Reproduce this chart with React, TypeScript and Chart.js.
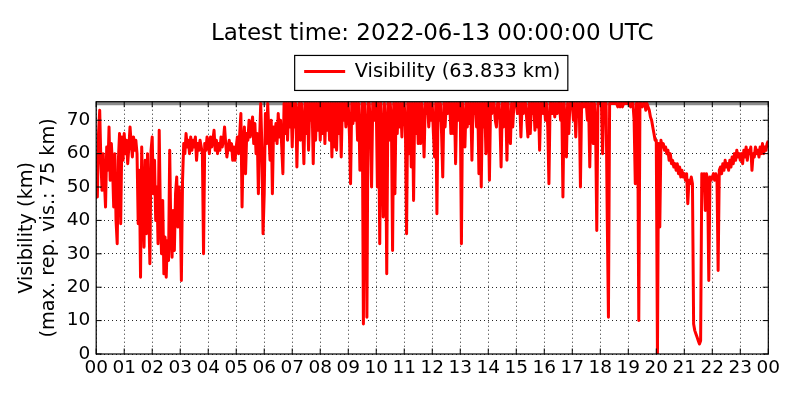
import React, { useEffect, useRef } from 'react';
import { Chart, registerables } from 'chart.js';

Chart.register(...registerables);

const titleText = 'Latest time: 2022-06-13 00:00:00 UTC';
const hourLabels = [
  '00', '01', '02', '03', '04', '05', '06', '07', '08', '09', '10', '11',
  '12', '13', '14', '15', '16', '17', '18', '19', '20', '21', '22', '23', '00',
];
const yTitle = ['Visibility (km)', '(max. rep. vis.: 75 km)'];
const maxReportedVisibility = 75;
const latestVisibility = 63.833;
const stepMinutes = 2.5;

// visibility (km) every 2.5 minutes, one row per hour
const visibility = [
  /* 00 */ 60, 47, 66, 73, 58, 49, 60, 52, 44, 62, 55, 68, 52, 63, 56, 44, 60, 40, 33, 58, 66, 39, 65, 58,
  /* 01 */ 66, 60, 64, 57, 62, 68, 63, 59, 65, 61, 64, 60, 39, 55, 23, 62, 45, 32, 58, 36, 60, 44, 27, 61,
  /* 02 */ 65, 48, 58, 40, 50, 33, 67, 42, 30, 46, 24, 35, 23, 34, 28, 61, 36, 29, 43, 31, 48, 53, 38, 50,
  /* 03 */ 45, 22, 52, 63, 60, 66, 62, 64, 60, 65, 61, 64, 62, 65, 58, 63, 61, 64, 62, 60, 30, 63, 61, 65,
  /* 04 */ 63, 60, 65, 62, 64, 67, 61, 64, 60, 63, 61, 65, 62, 64, 68, 63, 59, 62, 64, 61, 63, 58, 62, 58,
  /* 05 */ 62, 65, 60, 66, 72, 44, 63, 68, 54, 66, 64, 70, 65, 68, 71, 63, 69, 60, 66, 48, 64, 75, 62, 36,
  /* 06 */ 48, 72, 63, 75, 66, 58, 70, 48, 68, 64, 69, 63, 72, 65, 70, 62, 54, 75, 66, 75, 64, 75, 68, 75,
  /* 07 */ 62, 75, 68, 75, 56, 72, 75, 64, 75, 68, 57, 75, 66, 75, 61, 75, 70, 75, 57, 75, 64, 75, 67, 75,
  /* 08 */ 64, 75, 66, 75, 63, 75, 67, 75, 64, 75, 59, 75, 62, 75, 61, 75, 66, 75, 59, 75, 70, 75, 68, 75,
  /* 09 */ 75, 66, 51, 75, 69, 75, 70, 75, 64, 75, 55, 62, 75, 9, 75, 66, 11, 75, 75, 68, 50, 75, 70, 75,
  /* 10 */ 75, 50, 75, 33, 75, 66, 41, 75, 68, 24, 75, 64, 75, 70, 31, 75, 48, 75, 66, 75, 68, 75, 65, 75,
  /* 11 */ 75, 68, 36, 75, 60, 75, 56, 75, 46, 75, 66, 75, 63, 75, 63, 75, 70, 59, 75, 72, 75, 68, 75, 70,
  /* 12 */ 75, 66, 59, 75, 42, 75, 70, 75, 66, 53, 75, 68, 75, 72, 75, 75, 66, 75, 66, 75, 57, 75, 70, 75,
  /* 13 */ 75, 33, 75, 70, 62, 75, 68, 75, 69, 75, 58, 75, 72, 75, 68, 75, 54, 75, 50, 75, 68, 75, 60, 75,
  /* 14 */ 75, 52, 75, 72, 75, 75, 70, 68, 75, 75, 70, 56, 75, 68, 75, 75, 58, 75, 66, 63, 75, 68, 75, 75,
  /* 15 */ 75, 72, 75, 75, 65, 75, 72, 75, 75, 70, 65, 75, 66, 75, 72, 75, 67, 75, 68, 75, 61, 75, 75, 72,
  /* 16 */ 75, 70, 75, 68, 51, 75, 75, 72, 75, 71, 75, 72, 75, 75, 70, 75, 47, 75, 70, 59, 75, 66, 75, 75,
  /* 17 */ 75, 70, 75, 65, 75, 72, 75, 50, 75, 75, 74, 75, 75, 70, 75, 56, 75, 75, 63, 75, 68, 37, 75, 75,
  /* 18 */ 75, 75, 60, 75, 75, 75, 40, 11, 75, 75, 75, 75, 75, 75, 75, 74, 75, 74, 75, 74, 75, 75, 75, 75,
  /* 19 */ 75, 75, 74, 75, 75, 70, 51, 75, 75, 10, 75, 75, 74, 75, 75, 73, 75, 74, 73, 71, 70, 68, 66, 64,
  /* 20 */ 64, 0, 63, 38, 64, 62, 63, 61, 62, 60, 61, 58, 60, 57, 58, 56, 57, 55, 57, 54, 56, 53, 55, 53,
  /* 21 */ 54, 52, 54, 45, 52, 51, 53, 51, 9, 7, 6, 5, 4, 3, 4, 54, 52, 54, 43, 54, 52, 22, 53, 52,
  /* 22 */ 53, 54, 52, 54, 53, 25, 55, 56, 54, 57, 55, 58, 56, 57, 55, 58, 56, 59, 57, 60, 58, 61, 59, 60,
  /* 23 */ 58, 60, 57, 61, 59, 62, 58, 61, 60, 62, 55, 60, 59, 62, 60, 61, 59, 62, 60, 63, 60, 62, 61, 63,
  /* 24 */ latestVisibility,
];

const FONT = 'DejaVu Sans';

export default function App() {
  const ref = useRef<HTMLCanvasElement>(null);

  useEffect(() => {
    if (!ref.current) return;
    Chart.defaults.font.family = FONT;
    Chart.defaults.color = '#000';

    const points = visibility.map((v, i) => ({ x: (i * stepMinutes) / 60, y: v }));
    const maxLine = [
      { x: 0, y: maxReportedVisibility },
      { x: 24, y: maxReportedVisibility },
    ];

    const framePlugin = {
      id: 'frameAndTicks',
      afterDraw(chart: any) {
        const { ctx, chartArea: a, scales } = chart;
        ctx.save();
        ctx.strokeStyle = '#000';
        ctx.lineWidth = 1;
        ctx.beginPath();
        for (const t of scales.x.ticks) {
          const px = scales.x.getPixelForValue(t.value);
          ctx.moveTo(px, a.bottom);
          ctx.lineTo(px, a.bottom - 5.5);
          ctx.moveTo(px, a.top);
          ctx.lineTo(px, a.top + 5.5);
        }
        for (const t of scales.y.ticks) {
          const py = scales.y.getPixelForValue(t.value);
          ctx.moveTo(a.left, py);
          ctx.lineTo(a.left + 5.5, py);
          ctx.moveTo(a.right, py);
          ctx.lineTo(a.right - 5.5, py);
        }
        ctx.stroke();
        ctx.lineWidth = 1.2;
        ctx.strokeRect(a.left, a.top, a.right - a.left, a.bottom - a.top);
        const lg = chart.legend;
        const hb = lg && lg.legendHitBoxes && lg.legendHitBoxes[0];
        if (hb) {
          ctx.lineWidth = 1.2;
          ctx.strokeRect(hb.left - 9.5, hb.top - 6.5, hb.width + 17, 35);
        }
        ctx.restore();
      },
    };

    const chart = new Chart(ref.current, {
      type: 'line',
      data: {
        datasets: [
          {
            label: `Visibility (${latestVisibility.toFixed(3)} km)`,
            data: points,
            borderColor: '#ff0000',
            backgroundColor: '#ff0000',
            borderWidth: 3,
            pointRadius: 0,
            tension: 0,
            borderJoinStyle: 'round',
            borderCapStyle: 'butt',
            order: 1,
          },
          {
            label: 'max',
            data: maxLine,
            borderColor: '#8c8c8c',
            borderWidth: 3.5,
            pointRadius: 0,
            order: 2,
          },
        ],
      },
      options: {
        animation: false,
        responsive: false,
        layout: { padding: { left: 0, right: 31.7, top: 0, bottom: 0 } },
        plugins: {
          tooltip: { enabled: false },
          title: {
            display: true,
            text: titleText,
            fullSize: false,
            color: '#000',
            font: { family: FONT, size: 23, weight: 'normal' },
            padding: { top: 20.5, bottom: 3.85 },
          },
          legend: {
            display: true,
            fullSize: false,
            labels: {
              filter: (item: any) => item.datasetIndex === 0,
              usePointStyle: true,
              pointStyle: 'line',
              pointStyleWidth: 41,
              padding: 10,
              color: '#000',
              font: { family: FONT, size: 19.3 },
            },
          },
        },
        scales: {
          x: {
            type: 'linear',
            min: 0,
            max: 24,
            z: 1,
            afterFit: (s: any) => {
              s.height = 46;
            },
            ticks: {
              stepSize: 1,
              autoSkip: false,
              maxRotation: 0,
              minRotation: 0,
              padding: 3.5,
              color: '#000',
              font: { family: FONT, size: 18.5 },
              callback: (v: any) => hourLabels[Math.round(Number(v))],
            },
            grid: { color: 'rgba(0,0,0,0.85)', lineWidth: 1, drawTicks: false },
            border: { display: false, dash: [1, 3] },
          },
          x2: {
            type: 'linear',
            position: 'top',
            display: true,
            min: 0,
            max: 1,
            afterFit: (s: any) => {
              s.height = 10.45;
            },
            ticks: { display: false },
            grid: { display: false, drawTicks: false },
            border: { display: false },
          },
          y: {
            min: 0,
            max: 75.55,
            z: 1,
            afterFit: (s: any) => {
              s.width = 96.2;
            },
            ticks: {
              stepSize: 10,
              includeBounds: false,
              padding: 6,
              color: '#000',
              font: { family: FONT, size: 18.5 },
            },
            grid: { color: 'rgba(0,0,0,0.85)', lineWidth: 1, drawTicks: false },
            border: { display: false, dash: [1, 3] },
            title: {
              display: true,
              text: yTitle,
              color: '#000',
              font: { family: FONT, size: 19.3, lineHeight: 1.13 },
              padding: { top: 16.4, bottom: 0 },
            },
          },
        },
      },
      plugins: [framePlugin],
    });

    return () => chart.destroy();
  }, []);

  return (
    <div style={{ position: 'absolute', left: 0, top: 0, width: 800, height: 400, background: '#fff' }}>
      <canvas ref={ref} width={800} height={400} style={{ display: 'block' }} />
    </div>
  );
}
